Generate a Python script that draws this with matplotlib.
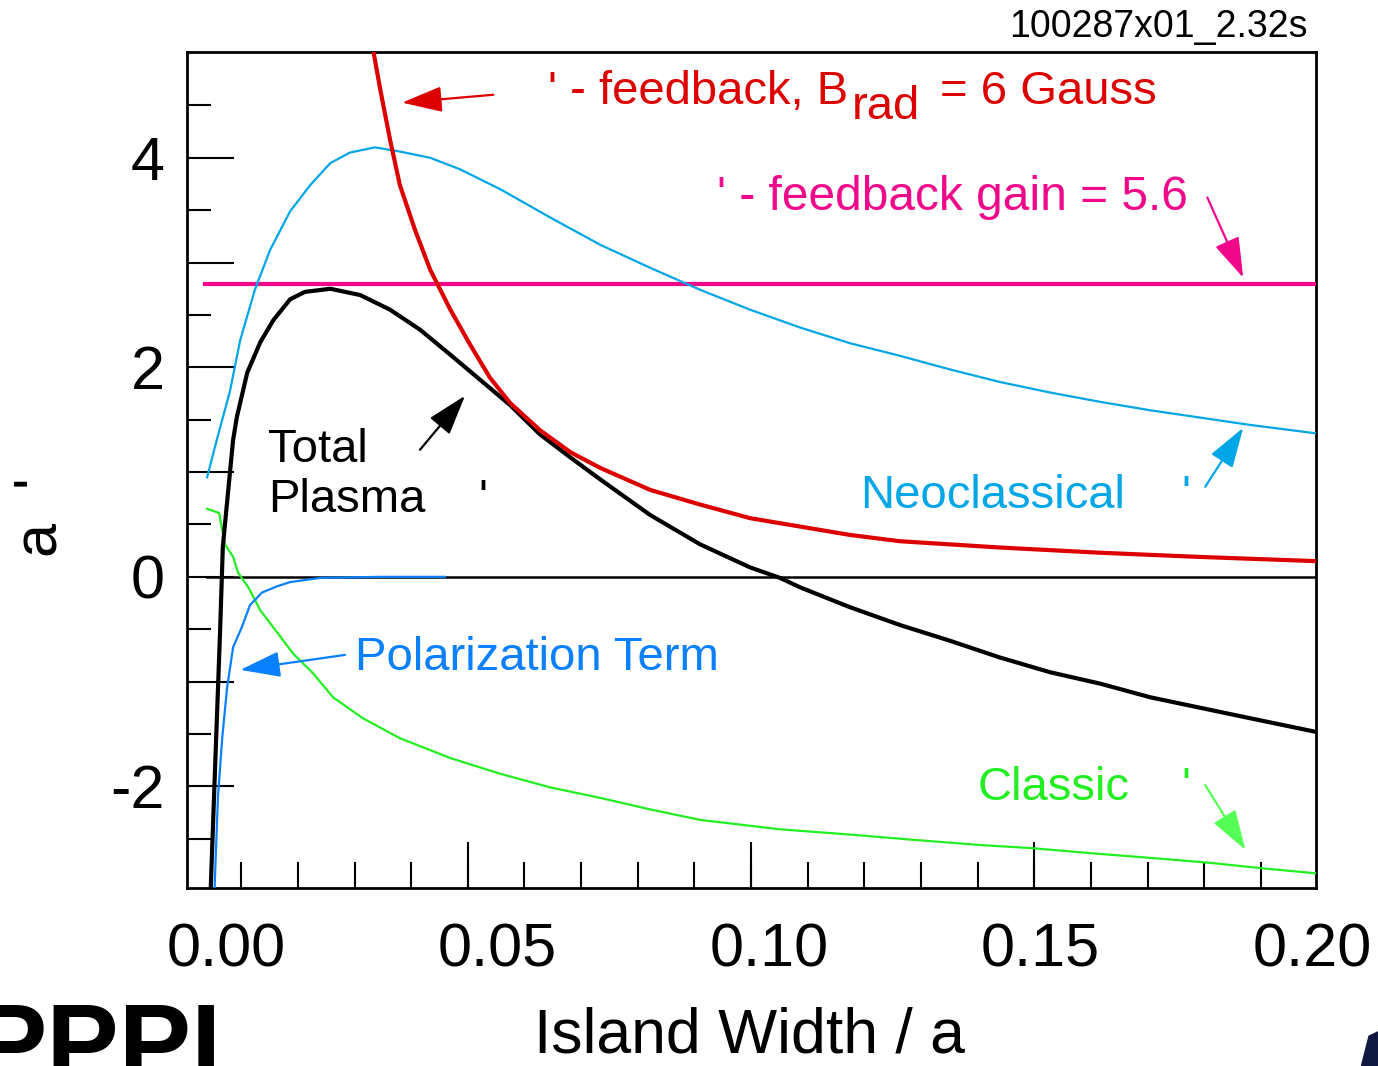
import numpy as np
import matplotlib.pyplot as plt
from matplotlib.patches import Polygon

plt.rcParams["font.family"] = ["Liberation Sans", "DejaVu Sans"]

# stability terms vs island width (a * Delta')
total_x = [-0.0029, -0.0020, -0.0011, -0.0006, 0.0004, 0.0013, 0.0020, 0.0039, 0.0063,
           0.0087, 0.0118, 0.0145, 0.0192, 0.0247, 0.0302, 0.0357, 0.0413, 0.0468,
           0.0523, 0.0578, 0.0634, 0.0689, 0.0781, 0.0873, 0.0965, 0.1020, 0.1057,
           0.1149, 0.1241, 0.1333, 0.1425, 0.1517, 0.1610, 0.1702, 0.1794, 0.1886, 0.2007]
total_y = [-3.08, -1.78, -0.51, 0.29, 0.83, 1.31, 1.53, 1.95, 2.24, 2.45, 2.65, 2.72,
           2.75, 2.69, 2.55, 2.36, 2.12, 1.88, 1.64, 1.36, 1.14, 0.93, 0.59, 0.31,
           0.09, -0.01, -0.10, -0.29, -0.46, -0.61, -0.77, -0.91, -1.02, -1.15, -1.25,
           -1.35, -1.48]

brad_x = [0.0269, 0.0284, 0.0302, 0.0320, 0.0348, 0.0376, 0.0413, 0.0449, 0.0486,
          0.0523, 0.0578, 0.0634, 0.0689, 0.0781, 0.0873, 0.0965, 0.1057, 0.1149,
          0.1241, 0.1333, 0.1425, 0.1610, 0.1794, 0.2007]
brad_y = [5.08, 4.65, 4.17, 3.74, 3.31, 2.93, 2.55, 2.22, 1.90, 1.66, 1.40, 1.19,
          1.04, 0.83, 0.69, 0.56, 0.48, 0.40, 0.34, 0.31, 0.28, 0.23, 0.19, 0.15]

neo_x = [-0.0035, -0.0017, 0.0007, 0.0026, 0.0053, 0.0081, 0.0118, 0.0155, 0.0192,
         0.0228, 0.0274, 0.0320, 0.0376, 0.0431, 0.0505, 0.0597, 0.0689, 0.0781,
         0.0873, 0.0965, 0.1057, 0.1149, 0.1241, 0.1333, 0.1425, 0.1517, 0.1610,
         0.1702, 0.1794, 0.1886, 0.2007]
neo_y = [0.95, 1.31, 1.77, 2.26, 2.74, 3.12, 3.49, 3.74, 3.95, 4.05, 4.10, 4.06,
         4.00, 3.89, 3.70, 3.43, 3.17, 2.95, 2.74, 2.55, 2.38, 2.23, 2.11, 1.98,
         1.86, 1.76, 1.67, 1.59, 1.52, 1.45, 1.37]

pol_x = [-0.0022, -0.0015, -0.0007, 0.0002, 0.0013, 0.0029, 0.0044, 0.0066, 0.0094,
         0.0118, 0.0173, 0.0284, 0.0403]
pol_y = [-3.08, -2.10, -1.53, -1.05, -0.67, -0.48, -0.27, -0.15, -0.09, -0.05,
         -0.01, 0.0, 0.0]

cls_x = [-0.0035, -0.0013, -0.0002, 0.0013, 0.0022, 0.0041, 0.0063, 0.0094, 0.0123,
         0.0160, 0.0197, 0.0252, 0.0320, 0.0413, 0.0505, 0.0597, 0.0689, 0.0781,
         0.0873, 0.1020, 0.1149, 0.1265, 0.1389, 0.1484, 0.1597, 0.1720, 0.1812,
         0.1904, 0.2006]
cls_y = [0.65, 0.61, 0.31, 0.19, 0.04, -0.10, -0.32, -0.53, -0.73, -0.92, -1.15,
         -1.35, -1.54, -1.73, -1.88, -2.01, -2.11, -2.22, -2.32, -2.41, -2.46, -2.51,
         -2.56, -2.59, -2.64, -2.69, -2.73, -2.78, -2.83]

gain_level = 2.8
x_labels = [0.00, 0.05, 0.10, 0.15, 0.20]
y_labels = [-2, 0, 2, 4]

RED = "#dd0000"
MAGENTA = "#f0078a"
NEO = "#00a6e6"
POL = "#0a80ff"
GREEN = "#22ee22"

fig = plt.figure(figsize=(13.78, 10.66), dpi=100)
ax = fig.add_axes([0.1357, 0.167, 0.8193, 0.7842])
x0, x1 = -0.0072, 0.2007
ax.set_xlim(x0, x1)
ax.set_ylim(-2.97, 5.01)

ax.plot([-0.0035, x1], [0, 0], color="black", lw=1.8, zorder=2)
ax.plot([-0.0039, x1], [gain_level, gain_level], color=MAGENTA, lw=3, zorder=3)
ax.plot(neo_x, neo_y, color=NEO, lw=1.6, zorder=3)
ax.plot(cls_x, cls_y, color=GREEN, lw=1.6, zorder=3)
ax.plot(pol_x, pol_y, color=POL, lw=1.6, zorder=3)
ax.plot(total_x, total_y, color="black", lw=3, zorder=4)
ax.plot(brad_x, brad_y, color=RED, lw=3, zorder=5)

for s in ax.spines.values():
    s.set_linewidth(2)

# x: labels on their own, tick marks at the instrument grid
ax.set_xticks(x_labels)
ax.set_xticklabels(["%.2f" % v for v in x_labels])
ax.set_xticks(0.0028 + 0.01043 * np.arange(19), minor=True)
ax.tick_params(axis="x", which="major", length=0, pad=25, labelsize=44)
ax.tick_params(axis="x", which="minor", direction="in", length=19, width=1.5)
sec = ax.secondary_xaxis("bottom")
sec.set_xticks(0.0028 + 0.01043 * np.array([4, 9, 14]))
sec.set_xticklabels([])
sec.tick_params(direction="in", length=33, width=1.5)
sec.spines["bottom"].set_visible(False)

ax.set_yticks(np.arange(-2, 5))
ax.set_yticklabels([str(v) if v in y_labels else "" for v in range(-2, 5)])
ax.set_yticks(np.arange(-2.5, 5.0, 1.0), minor=True)
ax.tick_params(axis="y", which="major", direction="in", length=34, width=1.5,
               pad=16, labelsize=44)
ax.tick_params(axis="y", which="minor", direction="in", length=17, width=1.5)

fs = 34
ax.text(0.0593, 4.51, "' - feedback, B", color=RED, fontsize=fs, va="baseline")
ax.text(0.1152, 4.37, "rad", color=RED, fontsize=fs, va="baseline")
ax.text(0.1315, 4.51, "= 6 Gauss", color=RED, fontsize=fs, va="baseline")
ax.text(0.0904, 3.505, "' - feedback gain = 5.6", color=MAGENTA, fontsize=34.5,
        va="baseline")
ax.text(0.0077, 1.098, "Total", color="black", fontsize=fs, va="baseline")
ax.text(0.0077, 0.62, "Plasma", color="black", fontsize=fs, va="baseline")
ax.text(0.0464, 0.62, "'", color="black", fontsize=fs, va="baseline")
ax.text(0.1168, 0.66, "Neoclassical", color=NEO, fontsize=fs, va="baseline")
ax.text(0.1759, 0.66, "'", color=NEO, fontsize=fs, va="baseline")
ax.text(0.0238, -0.89, "Polarization Term", color=POL, fontsize=fs, va="baseline")
ax.text(0.1383, -2.13, "Classic", color=GREEN, fontsize=fs, va="baseline")
ax.text(0.1759, -2.13, "'", color=GREEN, fontsize=fs, va="baseline")

arrows = [
    ((0.0492, 4.602), (0.0324, 4.527), RED),
    ((0.1807, 3.620), (0.1873, 2.856), MAGENTA),
    ((0.0357, 1.213), (0.0440, 1.729), "black"),
    ((0.1803, 0.860), (0.1873, 1.423), NEO),
    ((0.0219, -0.745), (0.0026, -0.888), POL),
    ((0.1803, -1.987), (0.1877, -2.607), "#55ff55"),
]
for tail, head, c in arrows:
    ax.annotate("", xy=head, xytext=tail, annotation_clip=False,
                arrowprops=dict(arrowstyle="-|>,head_length=1.25,head_width=0.4",
                                color=c, lw=1.6, shrinkA=0, shrinkB=0,
                                mutation_scale=20))

fig.text(0.949, 0.9745, "100287x01_2.32s", fontsize=27, ha="right", va="center")
fig.text(0.544, 0.013, "Island Width / a", fontsize=45, ha="center", va="baseline")
fig.text(0.0298, 0.515, "a  '", fontsize=44, rotation=90, ha="center", va="center")
fig.text(-0.018, -0.012, "PPPL", fontsize=78, fontweight="bold", ha="left",
         va="baseline")
fig.patches.append(Polygon([[0.988, 0.0], [0.9935, 0.028], [1.0, 0.032], [1.0, 0.0]],
                           closed=True, transform=fig.transFigure,
                           color="#101840", figure=fig))

fig.savefig("out.png", dpi=100)
